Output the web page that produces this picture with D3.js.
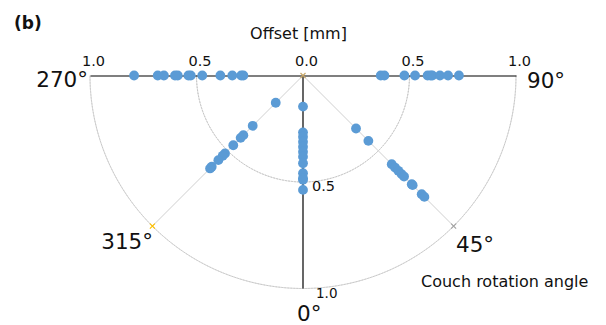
<!DOCTYPE html>
<html>
<head>
<meta charset="utf-8">
<script src="https://cdn.jsdelivr.net/npm/d3@7"></script>
<style>
  html, body { margin: 0; padding: 0; background: #fff; }
  svg { display: block; font-family: "DejaVu Sans", Verdana, sans-serif; }
</style>
</head>
<body>
<svg id="chart" width="606" height="325"></svg>
<script>
// Couch rotation angles (deg) and the measured offsets [mm] at each angle
const angles = [0, 45, 90, 270, 315];
const offsets0   = [0.146, 0.267, 0.287, 0.311, 0.334, 0.358, 0.381, 0.412, 0.459, 0.482, 0.490, 0.537];
const offsets45  = [0.352, 0.434, 0.589, 0.611, 0.633, 0.655, 0.671, 0.722, 0.728, 0.788, 0.806];
const offsets90  = [0.365, 0.382, 0.476, 0.526, 0.585, 0.599, 0.607, 0.643, 0.681, 0.732];
const offsets270 = [0.280, 0.290, 0.332, 0.388, 0.473, 0.527, 0.538, 0.588, 0.601, 0.653, 0.682, 0.793];
const offsets315 = [0.181, 0.334, 0.396, 0.414, 0.463, 0.518, 0.533, 0.562, 0.606, 0.617];
const offsetTicks = [-1, -0.5, 0, 0.5, 1];
const ringValues = [0.5, 1.0];
const angleLabels = ["0°", "45°", "90°", "270°", "315°"];

const series = [
  { angle: 0,   values: offsets0 },
  { angle: 45,  values: offsets45 },
  { angle: 90,  values: offsets90 },
  { angle: 270, values: offsets270 },
  { angle: 315, values: offsets315 }
];

const svg = d3.select("#chart");
const cx = 303, cy = 75.5, R = 213;

const r = d3.scaleLinear().domain([0, 1]).range([0, R]);
const xTop = d3.scaleLinear().domain([-1, 1]).range([cx - R, cx + R]);

// 0° points straight down, angles increase clockwise on screen (90° to the right)
const px = (deg, v) => cx + r(v) * Math.sin(deg * Math.PI / 180);
const py = (deg, v) => cy + r(v) * Math.cos(deg * Math.PI / 180);

const g = svg.append("g");

// dotted rings (lower half circle)
const arc = d3.arc()
  .innerRadius(d => r(d)).outerRadius(d => r(d))
  .startAngle(Math.PI / 2).endAngle(3 * Math.PI / 2);
g.selectAll("path.ring").data(ringValues).join("path")
  .attr("class", "ring")
  .attr("transform", `translate(${cx},${cy})`)
  .attr("d", arc)
  .attr("fill", "none")
  .attr("stroke", "#c4c4c4")
  .attr("stroke-width", 1)
  .attr("stroke-dasharray", "1.6,1.4");

// light diagonal spokes
g.selectAll("line.spoke").data([45, 315]).join("line")
  .attr("class", "spoke")
  .attr("x1", cx).attr("y1", cy)
  .attr("x2", d => px(d, 1)).attr("y2", d => py(d, 1))
  .attr("stroke", "#d0d0d0").attr("stroke-width", 1);

// offset axis across the top
const axis = d3.axisTop(xTop)
  .tickValues(offsetTicks)
  .tickSize(0)
  .tickPadding(10)
  .tickFormat(d => d3.format(".1f")(Math.abs(d)));
const ax = svg.append("g").attr("transform", `translate(0,${cy})`).call(axis);
ax.select(".domain").attr("stroke", "#000").attr("stroke-width", 1.2);
ax.selectAll("text")
  .attr("font-family", "DejaVu Sans, Verdana, sans-serif")
  .attr("font-size", 14.5).attr("fill", "#111").attr("dx", 3);

// vertical 0° axis
g.append("line")
  .attr("x1", cx).attr("y1", cy)
  .attr("x2", px(0, 1)).attr("y2", py(0, 1))
  .attr("stroke", "#000").attr("stroke-width", 1.2);

// radial labels on the 0° axis
svg.selectAll("text.rl").data(ringValues).join("text")
  .attr("class", "rl")
  .attr("x", d => cx + (d === 1 ? 13 : 9))
  .attr("y", d => py(0, d) + 9)
  .attr("font-size", d => d === 1 ? 13.5 : 14.5)
  .attr("fill", "#111")
  .text(d => d3.format(".1f")(d));

// small cross markers
function cross(x, y, color) {
  const s = 2.5;
  svg.append("path")
    .attr("d", `M${x - s},${y - s}L${x + s},${y + s}M${x - s},${y + s}L${x + s},${y - s}`)
    .attr("stroke", color).attr("stroke-width", 1.2).attr("fill", "none");
}
cross(cx, cy, "#c9a86a");
cross(px(315, 1), py(315, 1), "#ffc000");
cross(px(45, 1), py(45, 1), "#a5a5a5");

// data points
const pts = series.flatMap(s => s.values.map(v => ({ angle: s.angle, v })));
svg.append("g").selectAll("circle").data(pts).join("circle")
  .attr("cx", d => px(d.angle, d.v))
  .attr("cy", d => py(d.angle, d.v))
  .attr("r", 4.9)
  .attr("fill", "#5b9bd5");

// angle labels
const angleLabelPos = {
  "0°":   { x: 297, y: 321, anchor: "start" },
  "45°":  { x: 456, y: 252, anchor: "start" },
  "90°":  { x: 527, y: 88,  anchor: "start" },
  "270°": { x: 88,  y: 87,  anchor: "end" },
  "315°": { x: 153, y: 249, anchor: "end" }
};
svg.selectAll("text.ang").data(angleLabels).join("text")
  .attr("class", "ang")
  .attr("x", d => angleLabelPos[d].x)
  .attr("y", d => angleLabelPos[d].y)
  .attr("text-anchor", d => angleLabelPos[d].anchor)
  .attr("font-size", 21.5)
  .attr("fill", "#111")
  .text(d => d);

// titles
svg.append("text").attr("x", 298.5).attr("y", 39).attr("text-anchor", "middle")
  .attr("font-size", 16).attr("fill", "#111").text("Offset [mm]");
svg.append("text").attr("x", 421).attr("y", 287)
  .attr("font-size", 16).attr("fill", "#111").text("Couch rotation angle");
svg.append("text").attr("x", 14).attr("y", 29)
  .attr("font-size", 17).attr("font-weight", "bold").attr("fill", "#111").text("(b)");
</script>
</body>
</html>
